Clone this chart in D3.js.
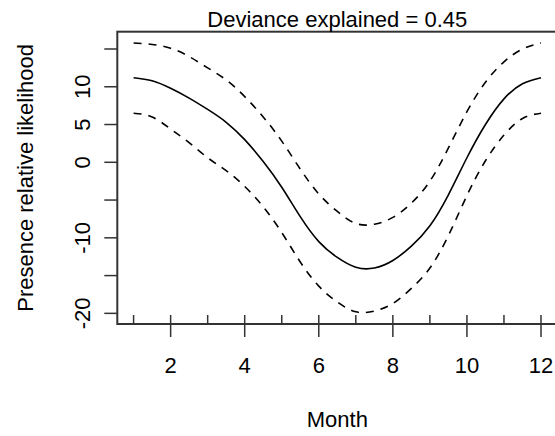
<!DOCTYPE html>
<html>
<head>
<meta charset="utf-8">
<script src="https://cdn.jsdelivr.net/npm/d3@7"></script>
<style>
  body { margin: 0; background: #fff; }
  text { font-family: "Liberation Sans", Arial, sans-serif; fill: #000; }
</style>
</head>
<body>
<div id="chart"></div>
<script>
// Data (month, fitted smooth and the dashed bands)
const months = [1, 1.5, 2, 2.5, 3, 3.5, 4, 4.5, 5, 5.5, 6, 6.5, 7, 7.5, 8, 8.5, 9, 9.5, 10, 10.5, 11, 11.5, 12];
const fit = [11.2, 10.8, 9.8, 8.5, 7.0, 5.3, 3.0, 0.1, -3.3, -7.2, -10.5, -12.6, -13.9, -14.0, -13.0, -11.1, -8.4, -4.3, 0.6, 5.0, 8.4, 10.4, 11.2];
const upper = [15.8, 15.6, 15.1, 14.0, 12.5, 10.9, 8.7, 6.0, 2.8, -0.9, -4.2, -6.5, -8.1, -8.2, -7.3, -5.4, -2.5, 1.9, 6.7, 10.6, 13.3, 15.0, 15.8];
const lower = [6.5, 6.0, 4.4, 2.6, 0.6, -1.1, -3.2, -5.9, -9.3, -13.2, -16.4, -18.5, -19.8, -19.7, -18.7, -16.7, -14.0, -9.7, -4.4, 0.2, 3.6, 5.8, 6.5];

const xMajorTicks = [2, 4, 6, 8, 10, 12];
const xMinorTicks = [1, 3, 5, 7, 9, 11];
const yTicks = [-20, -15, -10, -5, 0, 5, 10, 15];
const yTickLabels = ["-20", "", "-10", "", "0", "5", "10", ""];

const title = "Deviance explained = 0.45";
const xTitle = "Month";
const yTitle = "Presence relative likelihood";

const width = 555, height = 436;
const plotLeft = 117.3, plotRight = 557.3, plotTop = 31.7, plotBottom = 324;

const svg = d3.select("#chart")
    .append("svg")
    .attr("width", width)
    .attr("height", height);

// R style 4% padding on both scales
const x = d3.scaleLinear().domain([0.56, 12.44]).range([plotLeft, plotRight]);
const y = d3.scaleLinear().domain([-21.41, 17.29]).range([plotBottom, plotTop]);

const axisColor = "#333";

// box round the plot region (right edge falls just outside the window)
svg.append("rect")
    .attr("x", plotLeft)
    .attr("y", plotTop)
    .attr("width", plotRight - plotLeft)
    .attr("height", plotBottom - plotTop)
    .attr("fill", "none")
    .attr("stroke", axisColor)
    .attr("stroke-width", 2);

// y axis ticks and rotated labels
svg.append("g")
    .selectAll("line")
    .data(yTicks)
    .enter()
    .append("line")
    .attr("x1", plotLeft - 13)
    .attr("x2", plotLeft)
    .attr("y1", d => y(d))
    .attr("y2", d => y(d))
    .attr("stroke", axisColor)
    .attr("stroke-width", 1.5);

svg.append("g")
    .selectAll("text")
    .data(yTicks)
    .enter()
    .append("text")
    .attr("transform", d => `translate(90,${y(d)}) rotate(-90)`)
    .attr("text-anchor", "middle")
    .style("font-size", "22px")
    .text((d, i) => yTickLabels[i]);

// x axis: major ticks cross the line, minor ticks point inwards
svg.append("g")
    .selectAll("line")
    .data(xMajorTicks)
    .enter()
    .append("line")
    .attr("x1", d => x(d))
    .attr("x2", d => x(d))
    .attr("y1", plotBottom - 9)
    .attr("y2", plotBottom + 13)
    .attr("stroke", axisColor)
    .attr("stroke-width", 1.5);

svg.append("g")
    .selectAll("line")
    .data(xMinorTicks)
    .enter()
    .append("line")
    .attr("x1", d => x(d))
    .attr("x2", d => x(d))
    .attr("y1", plotBottom - 9)
    .attr("y2", plotBottom)
    .attr("stroke", axisColor)
    .attr("stroke-width", 1.5);

svg.append("g")
    .selectAll("text")
    .data(xMajorTicks)
    .enter()
    .append("text")
    .attr("x", d => x(d))
    .attr("y", 372.7)
    .attr("text-anchor", "middle")
    .style("font-size", "22px")
    .text(d => d);

// titles
svg.append("text")
    .attr("x", (plotLeft + plotRight) / 2)
    .attr("y", 27.3)
    .attr("text-anchor", "middle")
    .style("font-size", "22px")
    .text(title);

svg.append("text")
    .attr("x", (plotLeft + plotRight) / 2)
    .attr("y", 427.3)
    .attr("text-anchor", "middle")
    .style("font-size", "22px")
    .text(xTitle);

svg.append("text")
    .attr("transform", `translate(32.5,${(plotTop + plotBottom) / 2}) rotate(-90)`)
    .attr("text-anchor", "middle")
    .style("font-size", "22px")
    .text(yTitle);

// curves (natural spline keeps them smooth like the fitted GAM smooth)
const line = values => d3.line()
    .x((d, i) => x(months[i]))
    .y(d => y(d))
    .curve(d3.curveNatural)(values);

svg.append("path")
    .attr("d", line(upper))
    .attr("fill", "none")
    .attr("stroke", "#000")
    .attr("stroke-width", 1.6)
    .attr("stroke-dasharray", "8,7");

svg.append("path")
    .attr("d", line(lower))
    .attr("fill", "none")
    .attr("stroke", "#000")
    .attr("stroke-width", 1.6)
    .attr("stroke-dasharray", "8,7");

svg.append("path")
    .attr("d", line(fit))
    .attr("fill", "none")
    .attr("stroke", "#000")
    .attr("stroke-width", 1.6);
</script>
</body>
</html>
